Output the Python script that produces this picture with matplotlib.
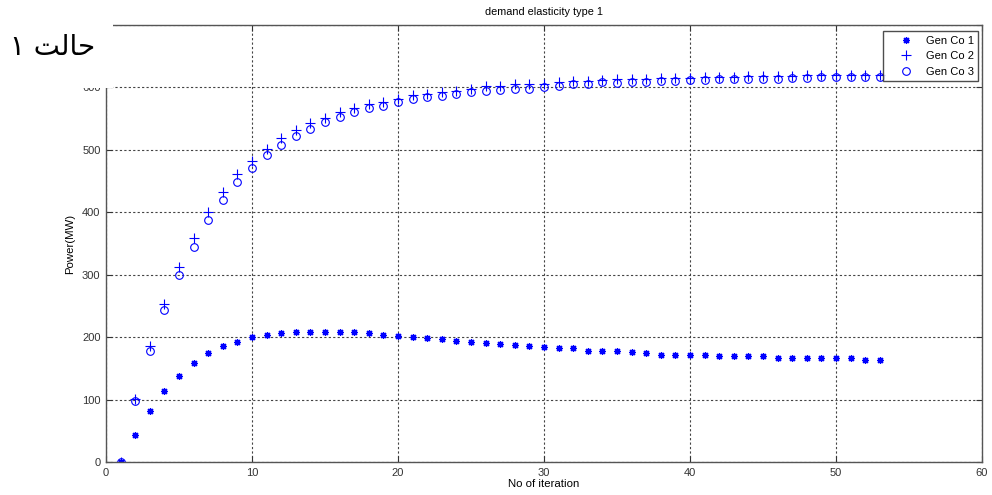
import matplotlib
matplotlib.use("Agg")
import matplotlib.pyplot as plt
from matplotlib.patches import Rectangle

# iterations
iterations = list(range(1, 54))

# Gen Co 1 (asterisk)
gen_co_1 = [0, 44, 82, 114, 138, 158, 174, 185, 193, 200,
            204, 207, 208, 209, 209, 209, 208, 206, 203, 202,
            201, 198, 197, 194, 192, 190, 189, 188, 185, 184,
            183, 182, 178, 177, 177, 176, 175, 172, 172, 171,
            171, 170, 170, 169, 169, 167, 167, 167, 166, 166,
            166, 164, 164]

# Gen Co 2 (plus)
gen_co_2 = [0, 101, 185, 253, 313, 359, 400, 433, 461, 482,
            502, 519, 532, 543, 551, 560, 567, 573, 577, 581,
            588, 590, 593, 595, 598, 602, 603, 605, 605, 606,
            608, 610, 611, 612, 613, 614, 614, 615, 615, 615,
            616, 617, 617, 618, 618, 619, 619, 620, 620, 620,
            620, 620, 620]

# Gen Co 3 (circle)
gen_co_3 = [0, 97, 177, 244, 300, 345, 387, 419, 448, 471,
            491, 508, 522, 534, 544, 553, 560, 567, 571, 576,
            581, 585, 587, 590, 592, 594, 596, 597, 598, 601,
            603, 605, 606, 608, 607, 609, 608, 610, 610, 612,
            612, 613, 613, 613, 614, 614, 615, 615, 616, 616,
            617, 617, 617]

x_ticks = [0, 10, 20, 30, 40, 50, 60]
y_ticks = [0, 100, 200, 300, 400, 500, 600, 700]

plt.rcParams["font.family"] = ["Liberation Sans", "DejaVu Sans"]

fig = plt.figure(figsize=(9.92, 4.95), dpi=100)
ax = fig.add_axes([0.1069, 0.0667, 0.8830, 0.8828])

blue = "#0000ff"
ax.plot(iterations, gen_co_1, linestyle="none", marker=(8, 2, 0), markersize=5,
        markeredgewidth=0.9, color=blue, label="Gen Co 1")
ax.plot(iterations, gen_co_2, linestyle="none", marker="+", markersize=7,
        markeredgewidth=0.8, color=blue, label="Gen Co 2")
ax.plot(iterations, gen_co_3, linestyle="none", marker="o", markersize=5.5,
        markerfacecolor="none", markeredgewidth=0.8, color=blue, label="Gen Co 3")

ax.set_xlim(0, 60)
ax.set_ylim(0, 700)
ax.set_xticks(x_ticks)
ax.set_yticks(y_ticks)
ax.tick_params(direction="in", length=4, labelsize=8, colors="#333333",
               top=True, right=True, pad=4)
ax.grid(True, color="#444444", linestyle=(0, (2, 2)), linewidth=0.8)
for s in ax.spines.values():
    s.set_color("#555555")
    s.set_linewidth(1.0)

ax.set_title("demand elasticity type 1", fontsize=7.8, pad=7)
ax.set_xlabel("No of iteration", fontsize=8.2, labelpad=1)
ax.set_ylabel("Power(MW)", fontsize=8.2, labelpad=5)

leg = ax.legend(loc="upper right", bbox_to_anchor=(0.9955, 0.986), fontsize=8,
                frameon=True, fancybox=False, borderpad=0.4, labelspacing=0.5,
                handlelength=3.3, handletextpad=0.15, borderaxespad=0)
leg.get_frame().set_edgecolor("#222222")
leg.get_frame().set_linewidth(1.0)

# white box pasted over top-left corner
fig.add_artist(Rectangle((0, 0.822), 0.114, 0.2, transform=fig.transFigure,
                         facecolor="white", edgecolor="none", zorder=5))
# Persian label (presentation forms, visual order)
fig.text(0.010, 0.905, "\u06f1 \ufe96\ufedf\ufe8e\ufea3", fontsize=20,
         family=["DejaVu Serif", "DejaVu Sans"], va="center", ha="left", zorder=6)

fig.savefig("out.png", dpi=100)
